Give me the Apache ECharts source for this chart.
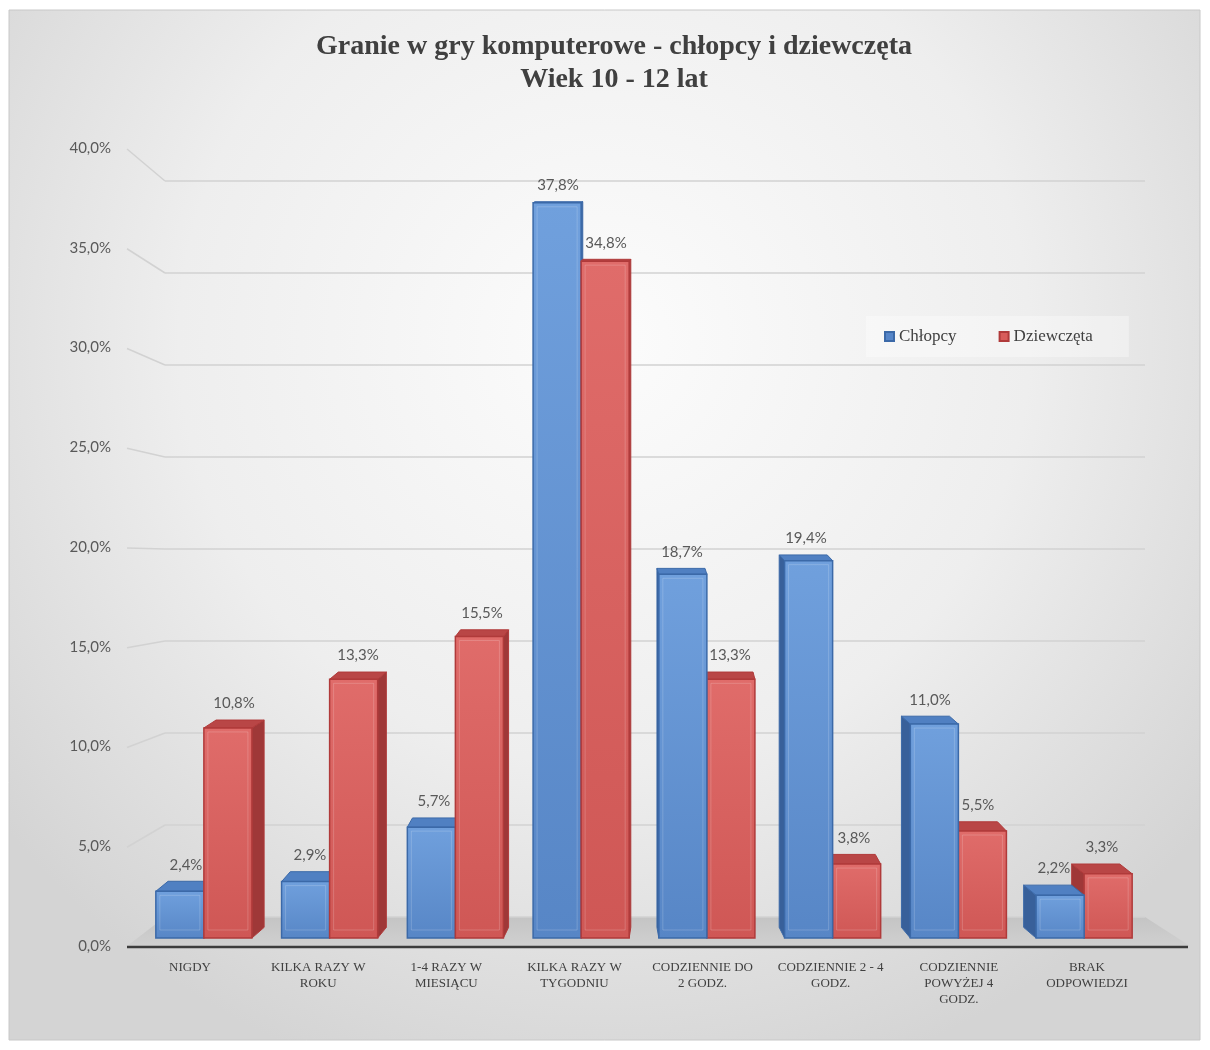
<!DOCTYPE html>
<html><head><meta charset="utf-8">
<script src="https://cdn.jsdelivr.net/npm/echarts@6/dist/echarts.min.js"></script>
<style>html,body{margin:0;padding:0;background:#fff}#c{width:1210px;height:1050px}</style>
</head><body><div id="c"></div>
<script>
const categories = ['NIGDY', 'KILKA RAZY W\nROKU', '1-4 RAZY W\nMIESIĄCU', 'KILKA RAZY W\nTYGODNIU', 'CODZIENNIE DO\n2 GODZ.', 'CODZIENNIE 2 - 4\nGODZ.', 'CODZIENNIE\nPOWYŻEJ 4\nGODZ.', 'BRAK\nODPOWIEDZI'];
const boys = [2.4, 2.9, 5.7, 37.8, 18.7, 19.4, 11.0, 2.2];
const girls = [10.8, 13.3, 15.5, 34.8, 13.3, 3.8, 5.5, 3.3];
const seriesNames = ['Chłopcy', 'Dziewczęta'];
const titleLines = ['Granie w gry komputerowe - chłopcy i dziewczęta', 'Wiek 10 - 12 lat'];
const yMin = 0, yMax = 40, yStep = 5;

const W = 1210, H = 1050;
const G0 = {left: 126, right: W - 1151, top: 148, bottom: H - 946};   // labels
const G1 = {left: 165, right: W - 1145, top: 181, bottom: H - 917};   // back wall
const G2 = {left: 141, right: W - 1147, top: 160, bottom: H - 938};   // bars

const fmt = v => v.toFixed(1).replace('.', ',') + '%';
const CX = 640;
const SERIF = '"Liberation Serif", "Times New Roman", serif';
const pal = [
  {front: ['#70a0dd', '#5786c6'], stroke: '#3b69a8', top: '#5080c2', side: '#38609a'},
  {front: ['#e06c6a', '#cf5755'], stroke: '#b03a3a', top: '#b94646', side: '#9f3838'}
];

function renderBars(params, api) {
  const i = api.value(0);
  const vals = [api.value(1), api.value(2)];
  const base = api.coord([i, 0]);
  const band = api.size([1, 0])[0];
  const w = band * 0.382;
  const cx = base[0], y0 = base[1];
  const dx = -(cx - CX) * 0.028;
  const dyOf = y => -Math.max(1, (y - 120) * 0.013);
  const order = cx < CX ? [0, 1] : [1, 0];
  const children = [];
  const labels = [];
  order.forEach(k => {
    const c = pal[k];
    const x0 = k === 0 ? cx - w : cx;
    const x1 = x0 + w;
    const top = api.coord([i, vals[k]])[1];
    const dt = dyOf(top), db = dyOf(y0);
    const sx = dx > 0 ? x1 : x0;
    children.push({type: 'polygon', shape: {points: [[sx, top], [sx + dx, top + dt], [sx + dx, y0 + db], [sx, y0]]},
      style: {fill: c.side, stroke: c.stroke, lineWidth: 1}});
    children.push({type: 'polygon', shape: {points: [[x0, top], [x0 + dx, top + dt], [x1 + dx, top + dt], [x1, top]]},
      style: {fill: c.top, stroke: c.stroke, lineWidth: 1}});
    children.push({type: 'rect', shape: {x: x0, y: top, width: w, height: y0 - top},
      style: {fill: new echarts.graphic.LinearGradient(0, 0, 0, 1, [{offset: 0, color: c.front[0]}, {offset: 1, color: c.front[1]}]),
        stroke: c.stroke, lineWidth: 1.5}});
    children.push({type: 'rect', shape: {x: x0 + 4, y: top + 4, width: w - 8, height: Math.max(0, y0 - top - 12)},
      style: {fill: 'none', stroke: 'rgba(255,255,255,0.18)', lineWidth: 1}});
    labels.push({type: 'text', style: {text: fmt(vals[k]), x: (x0 + x1) / 2 + dx / 2, y: top + dt - 9,
      align: 'center', verticalAlign: 'bottom', fontFamily: 'Lato', fontSize: 15, fill: '#595959'}});
  });
  return {type: 'group', children: children.concat(labels)};
}

const chart = echarts.init(document.getElementById('c'), null, {renderer: 'canvas'});
const axisY = (gi, show) => ({
  gridIndex: gi, type: 'value', min: yMin, max: yMax, interval: yStep,
  axisLine: {show: false}, axisTick: {show: false},
  axisLabel: show ? {formatter: fmt, fontFamily: 'Lato', fontSize: 15, color: '#595959', margin: 15} : {show: false},
  splitLine: gi === 1 ? {show: true, lineStyle: {color: '#d2d2d2', width: 1.5}} : {show: false}
});
const axisX = (gi, show) => ({
  gridIndex: gi, type: 'category', data: categories,
  axisLine: {show: false}, axisTick: {show: false},
  axisLabel: show ? {
    interval: 0, margin: 14, color: '#404040', fontFamily: SERIF, fontSize: 13, lineHeight: 16,
    formatter: v => v.split('\n').map(s => '{a|' + s + '}').join('\n'),
    rich: {a: {fontFamily: SERIF, fontSize: 13, lineHeight: 16, color: '#404040'}}
  } : {show: false},
  splitLine: {show: false}
});

const option = {
  animation: false,
  grid: [G0, G1, G2],
  xAxis: [axisX(0, true), axisX(1, false), axisX(2, false)],
  yAxis: [axisY(0, true), axisY(1, false), axisY(2, false)],
  legend: {
    data: seriesNames, left: 866, top: 316, icon: 'rect', itemWidth: 9, itemHeight: 9, itemGap: 42,
    padding: [12, 36, 12, 18], backgroundColor: 'rgba(255,255,255,0.35)',
    textStyle: {fontFamily: SERIF, fontSize: 17, color: '#404040'}
  },
  series: [
    {name: seriesNames[0], type: 'bar', xAxisIndex: 2, yAxisIndex: 2, data: [], itemStyle: {color: '#5585c8', borderColor: '#3b69a8', borderWidth: 1}},
    {name: seriesNames[1], type: 'bar', xAxisIndex: 2, yAxisIndex: 2, data: [], itemStyle: {color: '#d85c5a', borderColor: '#b03a3a', borderWidth: 1}},
    {type: 'custom', xAxisIndex: 2, yAxisIndex: 2, renderItem: renderBars, z: 3,
      encode: {x: 0, y: [1, 2]},
      data: categories.map((c, i) => [i, boys[i], girls[i]])}
  ]
};
chart.setOption(option);

// decorations derived from the axes
const gfx = [];
gfx.push({type: 'rect', z: -100, shape: {x: 9, y: 10, width: 1191, height: 1030},
  style: {fill: new echarts.graphic.RadialGradient(0.5, 0.32, 0.75, [{offset: 0, color: '#fcfcfc'}, {offset: 0.55, color: '#eeeeee'}, {offset: 1, color: '#d4d4d4'}]),
    stroke: '#c8c8c8', lineWidth: 1}});
titleLines.forEach((t, k) => gfx.push({type: 'text', z: 5, style: {text: t, x: 614, y: 47 + k * 33, align: 'center', verticalAlign: 'middle',
  fontFamily: SERIF, fontWeight: 'bold', fontSize: 28, fill: '#404040'}}));
for (let v = yMin; v <= yMax; v += yStep) {
  const ya = chart.convertToPixel({yAxisIndex: 0}, v);
  const yb = chart.convertToPixel({yAxisIndex: 1}, v);
  if (v > yMin) gfx.push({type: 'line', z: -1, shape: {x1: G0.left + 1, y1: ya + 1, x2: G1.left, y2: yb}, style: {stroke: '#d2d2d2', lineWidth: 1.5}});
}
const yf = chart.convertToPixel({yAxisIndex: 0}, 0);
const yk = chart.convertToPixel({yAxisIndex: 1}, 0);
gfx.push({type: 'polygon', z: -1, shape: {points: [[G0.left + 1, yf], [G1.left, yk], [W - G1.right, yk], [1190, yf]]},
  style: {fill: new echarts.graphic.LinearGradient(0, 0, 0, 1, [{offset: 0, color: '#c4c4c4'}, {offset: 1, color: '#d0d0d0'}])}});
gfx.push({type: 'line', z: 1, shape: {x1: G0.left + 1, y1: yf + 1, x2: 1188, y2: yf + 1}, style: {stroke: '#3c3c3c', lineWidth: 2.5}});
chart.setOption({graphic: gfx});
</script>
</body></html>
